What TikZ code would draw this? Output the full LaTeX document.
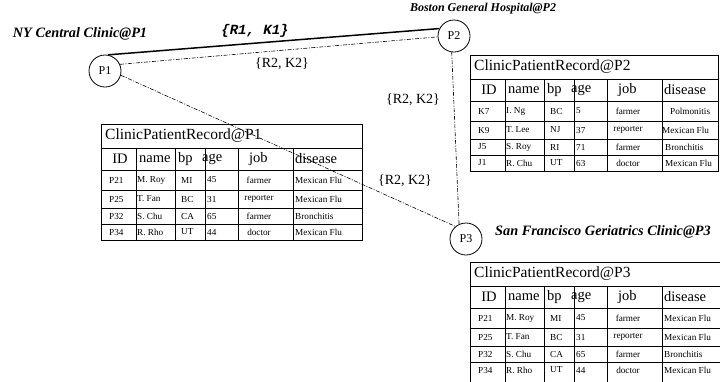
\documentclass[tikz,border=0pt]{standalone}
\usepackage{fontspec}
\setmainfont{Liberation Serif}
\setmonofont{Liberation Mono}
\tikzset{
  tbl/.style={line width=0.9pt},
  circ/.style={draw, circle, minimum size=32pt, inner sep=0pt, line width=0.8pt, font=\fontsize{12}{14}\selectfont},
  solidlink/.style={line width=1.5pt},
  ddlink/.style={line width=0.6pt, dash pattern=on 4pt off 1.5pt on 1pt off 1.5pt},
  site/.style={font=\fontsize{14.3}{16}\selectfont\bfseries\itshape, inner sep=0pt},
  sitesmall/.style={font=\fontsize{12}{14}\selectfont\bfseries\itshape, inner sep=0pt},
  keylab/.style={font=\fontsize{14}{16}\selectfont, inner sep=0pt},
  keymono/.style={font=\fontsize{14}{16}\selectfont\ttfamily\bfseries\itshape, inner sep=0pt},
  ttl/.style={font=\fontsize{15.5}{17}\selectfont, inner sep=0pt, anchor=west},
  hd/.style={font=\fontsize{14.5}{16}\selectfont, inner sep=0pt},
  cell/.style={font=\fontsize{9.2}{10}\selectfont, inner sep=0pt},
}
\newcommand\cpgrid[2]{%
  \draw[tbl] (0,0) rectangle (#1,#2);
  \foreach \yy in {24,46,66,84,100} \draw[tbl] (0,\yy) -- (#1,\yy);
  \foreach \xx in {35,74,104,137,192} \draw[tbl] (\xx,24) -- (\xx,#2);
}
\newcommand\cphead[2]{%
  \node[ttl] (#1-title) at (4,12) {#2};
  \node[hd] (#1-hid) at (19,35) {ID};
  \node[hd, anchor=west] (#1-hname) at (38,35) {name};
  \node[hd, anchor=west] (#1-hbp) at (77,35) {bp};
  \node[hd, anchor=west] (#1-hage) at (101,35) {age};
  \node[hd, anchor=west] (#1-hjob) at (148,35) {job};
  \node[hd, anchor=west] (#1-hdis) at (194,35) {disease};
}
\newcommand\cprow[9]{%
  \node[cell, anchor=west] (#1-id) at (8,#2) {#3};
  \node[cell, anchor=west] (#1-nm) at (36,#2) {#4};
  \node[cell, anchor=west] (#1-bp) at (80,#2) {#5};
  \node[cell, anchor=west] (#1-ag) at (106,#2) {#6};
  \node[cell] (#1-jb) at (158,#2) {#7};
  \node[cell, anchor=west] (#1-ds) at (#9,#2) {#8};
}
\begin{document}
\begin{tikzpicture}[x=1pt, y=-1pt]
\useasboundingbox (0,0) rectangle (720,381);

% sites
\node[circ] (P1) at (105,71) {P1};
\node[circ] (P2) at (454,36) {P2};
\node[circ] (P3) at (466,239) {P3};

\node[site] (L1) at (80,34) {NY Central Clinic@P1};
\node[sitesmall] (L2) at (483,9) {Boston General Hospital@P2};
\node[site] (L3) at (603,232) {San Francisco Geriatrics Clinic@P3};

% links
\draw[solidlink] (P1.80) -- (P2.153);
\draw[ddlink] (P1.24) -- (P2.183);
\draw[ddlink] (P1.-15) -- (P3.130);
\draw[ddlink] (P2.262) -- (P3.115);

\node[keymono] (k1) at (255,31) {\{R1, K1\}};
\node[keylab] (k2) at (282,64) {\{R2, K2\}};
\node[keylab] (k3) at (413,100) {\{R2, K2\}};
\node[keylab] (k4) at (405,181) {\{R2, K2\}};

% table P1
\begin{scope}[shift={(101,124)}]
  \cpgrid{261}{116}
  \cphead{ta}{ClinicPatientRecord@P1}
  \cprow{ta1}{56}{P21}{M. Roy}{MI}{45}{farmer}{Mexican Flu}{194}
  \cprow{ta2}{75}{P25}{T. Fan}{BC}{31}{reporter}{Mexican Flu}{194}
  \cprow{ta3}{92}{P32}{S. Chu}{CA}{65}{farmer}{Bronchitis}{194}
  \cprow{ta4}{108}{P34}{R. Rho}{UT}{44}{doctor}{Mexican Flu}{194}
\end{scope}

% table P2
\begin{scope}[shift={(470,55)}]
  \cpgrid{248}{116}
  \cphead{tb}{ClinicPatientRecord@P2}
  \cprow{tb1}{56}{K7}{I. Ng}{BC}{5}{farmer}{Polmonitis}{200}
  \cprow{tb2}{75}{K9}{T. Lee}{NJ}{37}{reporter}{Mexican Flu}{192}
  \cprow{tb3}{92}{J5}{S. Roy}{RI}{71}{farmer}{Bronchitis}{195}
  \cprow{tb4}{108}{J1}{R. Chu}{UT}{63}{doctor}{Mexican Flu}{195}
\end{scope}

% table P3 (cropped by the picture edge)
\begin{scope}
  \clip (0,0) rectangle (720,381);
  \begin{scope}[shift={(470,262)}]
    \cpgrid{270}{140}
    \cphead{tc}{ClinicPatientRecord@P3}
    \cprow{tc1}{56}{P21}{M. Roy}{MI}{45}{farmer}{Mexican Flu}{194}
    \cprow{tc2}{75}{P25}{T. Fan}{BC}{31}{reporter}{Mexican Flu}{194}
    \cprow{tc3}{92}{P32}{S. Chu}{CA}{65}{farmer}{Bronchitis}{194}
    \cprow{tc4}{108}{P34}{R. Rho}{UT}{44}{doctor}{Mexican Flu}{194}
  \end{scope}
\end{scope}
\end{tikzpicture}
\end{document}
